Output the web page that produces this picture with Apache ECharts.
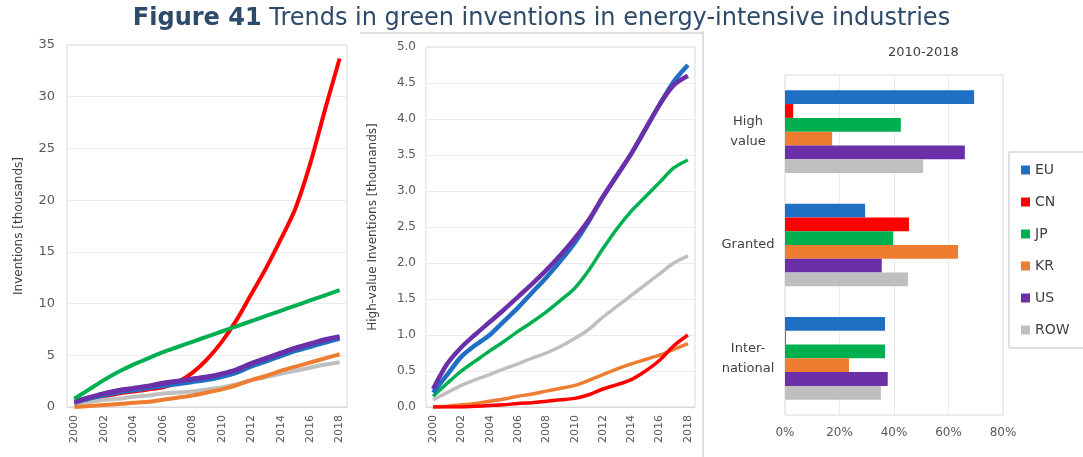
<!DOCTYPE html>
<html>
<head>
<meta charset="utf-8">
<script src="https://cdn.jsdelivr.net/npm/echarts@6/dist/echarts.min.js"></script>
<style>
html,body{margin:0;padding:0;background:#fff;}
#c{width:1083px;height:457px;}
</style>
</head>
<body>
<div id="c"></div>
<script>
// ---- data ----
const years = ['2000','2001','2002','2003','2004','2005','2006','2007','2008','2009','2010','2011','2012','2013','2014','2015','2016','2017','2018'];
const regions = ['EU','CN','JP','KR','US','ROW'];
const colors = ['#1F6FC5','#FF0000','#00B050','#ED7D31','#6B2FA8','#BFBFBF'];

// Left panel: inventions [thousands]
const invEU  = [0.4,0.8,1.1,1.4,1.6,1.8,2.0,2.2,2.4,2.6,2.9,3.3,3.9,4.4,4.9,5.4,5.8,6.2,6.6];
const invCN  = [0.3,0.7,1.0,1.3,1.5,1.7,1.9,2.4,3.3,4.6,6.3,8.4,10.9,13.4,16.2,19.2,23.5,28.7,33.7];
const invJP  = [0.8,1.7,2.6,3.4,4.1,4.7,5.3,5.8,6.3,6.8,7.3,7.8,8.3,8.8,9.3,9.8,10.3,10.8,11.3];
const invKR  = [0.0,0.1,0.2,0.3,0.4,0.5,0.7,0.9,1.1,1.4,1.7,2.1,2.6,3.0,3.5,3.9,4.3,4.7,5.1];
const invUS  = [0.5,0.9,1.3,1.6,1.8,2.0,2.3,2.5,2.7,2.9,3.2,3.6,4.2,4.7,5.2,5.7,6.1,6.5,6.8];
const invROW = [0.3,0.5,0.7,0.8,1.0,1.1,1.3,1.4,1.5,1.7,1.9,2.2,2.6,2.9,3.2,3.5,3.8,4.1,4.3];

// Middle panel: high-value inventions
const hvEU  = [0.20,0.45,0.70,0.86,1.00,1.19,1.38,1.59,1.80,2.03,2.28,2.58,2.92,3.22,3.52,3.86,4.20,4.52,4.75];
const hvCN  = [0.00,0.00,0.00,0.01,0.02,0.03,0.05,0.06,0.08,0.10,0.12,0.17,0.25,0.31,0.38,0.50,0.65,0.85,1.00];
const hvJP  = [0.15,0.33,0.50,0.64,0.78,0.91,1.05,1.18,1.32,1.48,1.65,1.90,2.20,2.48,2.72,2.92,3.12,3.32,3.43];
const hvKR  = [0.00,0.01,0.03,0.05,0.08,0.11,0.15,0.18,0.22,0.26,0.30,0.37,0.45,0.53,0.60,0.66,0.72,0.80,0.88];
const hvUS  = [0.25,0.60,0.83,1.01,1.18,1.35,1.53,1.71,1.90,2.11,2.34,2.60,2.92,3.22,3.52,3.86,4.20,4.47,4.60];
const hvROW = [0.10,0.20,0.30,0.38,0.45,0.53,0.60,0.68,0.75,0.84,0.95,1.08,1.25,1.40,1.55,1.70,1.85,2.00,2.10];

// Right panel: share 2010-2018 [%]
const shareCats = ['High\nvalue','Granted','Inter-\nnational'];
const shEU  = [69.4,29.4,36.7];
const shCN  = [3.0,45.5,0.3];
const shJP  = [42.5,39.7,36.7];
const shKR  = [17.3,63.5,23.5];
const shUS  = [66.0,35.5,37.7];
const shROW = [50.7,45.1,35.2];

const invData = [invEU,invCN,invJP,invKR,invUS,invROW];
const hvData = [hvEU,hvCN,hvJP,hvKR,hvUS,hvROW];
const shData = [shEU,shCN,shJP,shKR,shUS,shROW];
const leftZ = [3,1,6,4,5,2];
const midZ = [4,2,3,1,5,1];

const chart = echarts.init(document.getElementById('c'));
const gridLine = {show:true,lineStyle:{color:'#EBEBEB',width:1}};
const tickLbl = {color:'#595959',fontFamily:'DejaVu Sans',fontSize:12};
const series = [];
regions.forEach((r,i)=>{
  series.push({name:r,type:'line',xAxisIndex:0,yAxisIndex:0,data:invData[i],smooth:0.3,symbol:'none',
    lineStyle:{color:colors[i],width:i===4?5:4},itemStyle:{color:colors[i]},z:2+leftZ[i]});
});
regions.forEach((r,i)=>{
  series.push({name:r,type:'line',xAxisIndex:1,yAxisIndex:1,data:hvData[i],smooth:0.3,symbol:'none',
    lineStyle:{color:colors[i],width:i===4||i===0?4.5:3.5},itemStyle:{color:colors[i]},z:2+midZ[i]});
});
regions.forEach((r,i)=>{
  series.push({name:r,type:'bar',xAxisIndex:2,yAxisIndex:2,data:shData[i],
    itemStyle:{color:colors[i]},barGap:'0%',barCategoryGap:'27%'});
});

const catX = (gi)=>({type:'category',gridIndex:gi,data:years,boundaryGap:true,
  axisLine:{show:true,lineStyle:{color:'#D9D9D9'}},axisTick:{show:false},
  axisLabel:Object.assign({},tickLbl,{rotate:90,interval:1,fontSize:11,margin:8})});

chart.setOption({
  animation:false,
  title:{
    text:'{b|Figure 41} Trends in green inventions in energy-intensive industries',
    left:'center',top:2,
    textStyle:{fontFamily:'DejaVu Sans',fontSize:24,fontWeight:'normal',color:'#2E4A6A',
      rich:{b:{fontFamily:'DejaVu Sans',fontSize:24,fontWeight:'bold',color:'#2E4A6A'}}}
  },
  legend:{
    data:regions,orient:'vertical',left:1009,top:152,icon:'rect',itemWidth:9,itemHeight:9,
    itemGap:18,padding:[11,14,11,12],borderColor:'#BFBFBF',borderWidth:1,
    textStyle:{fontFamily:'DejaVu Sans',fontSize:14,color:'#404040'},selectedMode:false
  },
  graphic:[
    {type:'text',left:888,top:46,style:{text:'2010-2018',font:'13px "DejaVu Sans"',fill:'#404040',textAlign:'center'}},
    {type:'line',shape:{x1:703,y1:31,x2:703,y2:457},style:{stroke:'#BDBDBD',lineWidth:1}},
    {type:'line',shape:{x1:360,y1:33,x2:703,y2:33},style:{stroke:'#BDBDBD',lineWidth:1}}
  ],
  grid:[
    {left:67,top:45,width:280,height:362,show:true,borderColor:'#D9D9D9',borderWidth:1},
    {left:426,top:47,width:269,height:360,show:true,borderColor:'#D9D9D9',borderWidth:1},
    {left:785,top:75,width:218,height:340,show:true,borderColor:'#D9D9D9',borderWidth:1}
  ],
  xAxis:[
    catX(0),catX(1),
    {type:'value',gridIndex:2,min:0,max:80,interval:20,
      axisLine:{show:false},axisTick:{show:false},splitLine:gridLine,
      axisLabel:Object.assign({},tickLbl,{formatter:'{value}%',margin:12})}
  ],
  yAxis:[
    {type:'value',gridIndex:0,min:0,max:35,interval:5,axisLine:{show:false},axisTick:{show:false},
      splitLine:gridLine,axisLabel:Object.assign({},tickLbl,{fontSize:13,margin:12}),
      name:'Inventions [thousands]',nameLocation:'middle',nameGap:42,
      nameTextStyle:{fontFamily:'DejaVu Sans',fontSize:12,color:'#404040'}},
    {type:'value',gridIndex:1,min:0,max:5,interval:0.5,axisLine:{show:false},axisTick:{show:false},
      splitLine:gridLine,axisLabel:Object.assign({},tickLbl,{fontSize:12,margin:10,formatter:v=>v.toFixed(1)}),
      name:'High-value Inventions [thounands]',nameLocation:'middle',nameGap:47,
      nameTextStyle:{fontFamily:'DejaVu Sans',fontSize:12,color:'#404040'}},
    {type:'category',gridIndex:2,data:shareCats,inverse:true,axisLine:{show:false},axisTick:{show:false},
      axisLabel:{color:'#404040',fontFamily:'DejaVu Sans',fontSize:13,align:'center',margin:37,lineHeight:20}}
  ],
  series:series
});
</script>
</body>
</html>
